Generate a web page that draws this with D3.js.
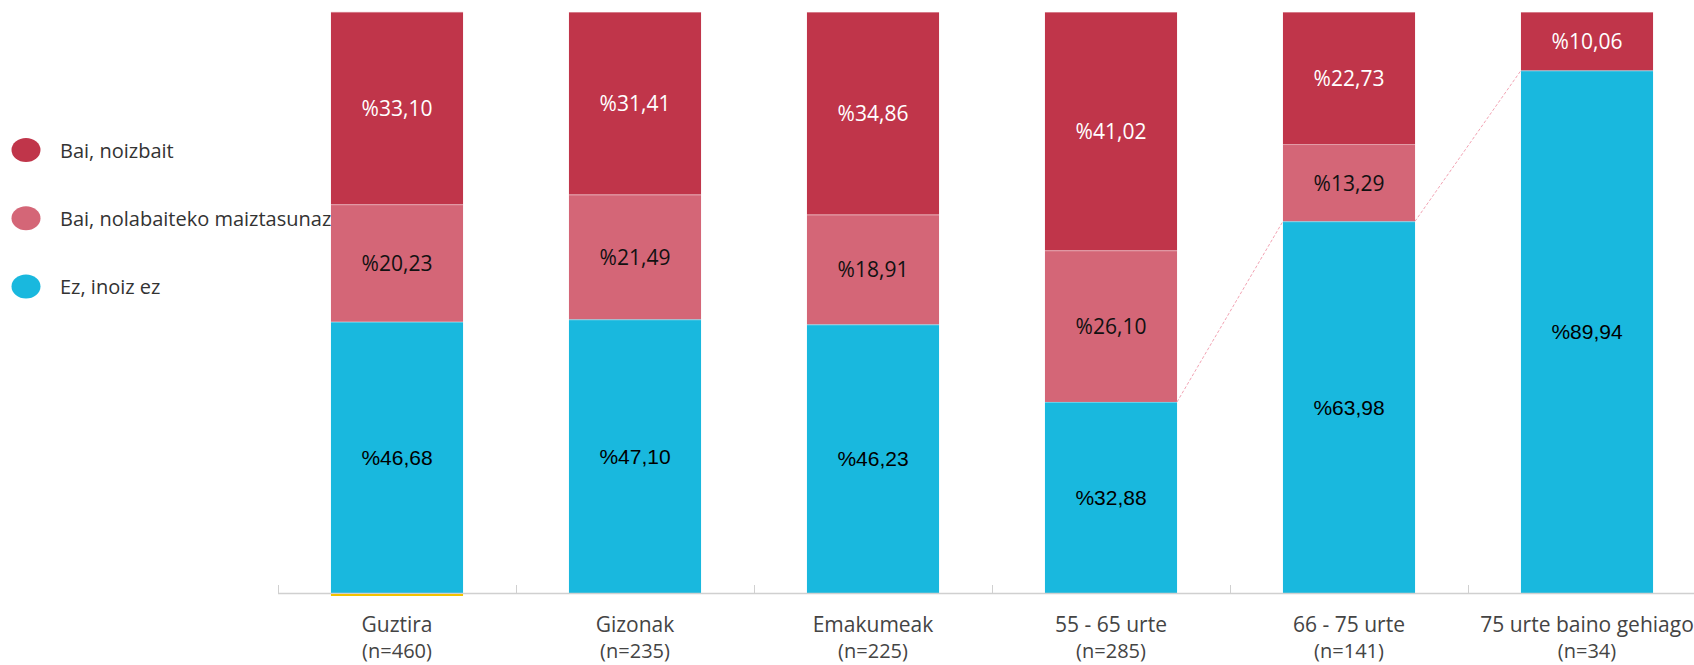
<!DOCTYPE html>
<html><head><meta charset="utf-8">
<script src="https://cdn.jsdelivr.net/npm/d3@7"></script>
<style>
html,body{margin:0;padding:0;background:#fff;}
svg{display:block;}
</style></head>
<body>
<svg id="chart" width="1694" height="665"></svg>
<script>
const categories = ["Guztira","Gizonak","Emakumeak","55 - 65 urte","66 - 75 urte","75 urte baino gehiago"];
const sampleSizes = ["(n=460)","(n=235)","(n=225)","(n=285)","(n=141)","(n=34)"];
const seriesNames = ["Ez, inoiz ez","Bai, nolabaiteko maiztasunaz","Bai, noizbait"];
const ezInoizEz = [46.68,47.10,46.23,32.88,63.98,89.94];
const baiNolabait = [20.23,21.49,18.91,26.10,13.29,0];
const baiNoizbait = [33.10,31.41,34.86,41.02,22.73,10.06];
const legendOrder = ["Bai, noizbait","Bai, nolabaiteko maiztasunaz","Ez, inoiz ez"];

const colors = {"Ez, inoiz ez":"#19b8de","Bai, nolabaiteko maiztasunaz":"#d46677","Bai, noizbait":"#c0354a"};
const labelColor = {"Ez, inoiz ez":"#000","Bai, nolabaiteko maiztasunaz":"#111","Bai, noizbait":"#fff"};
const labelFont = {"Ez, inoiz ez":"'Liberation Sans', Arial, sans-serif","Bai, nolabaiteko maiztasunaz":"'Segoe UI','Open Sans',sans-serif","Bai, noizbait":"'Segoe UI','Open Sans',sans-serif"};

const rows = categories.map((c,i)=>({cat:c,"Ez, inoiz ez":ezInoizEz[i],"Bai, nolabaiteko maiztasunaz":baiNolabait[i],"Bai, noizbait":baiNoizbait[i]}));
const stacked = d3.stack().keys(seriesNames)(rows);

const svg = d3.select("#chart");
const x = d3.scaleBand().domain(categories).range([278, 278+6*238]).paddingInner(0.445).paddingOuter(0.2225);
const y = d3.scaleLinear().domain([0,100]).range([593,12]);

// bars
const g = svg.append("g");
stacked.forEach(s=>{
  g.selectAll(null).data(s.filter(d=>d[1]-d[0]>0)).enter().append("rect")
    .attr("x",d=>x(d.data.cat))
    .attr("width",x.bandwidth())
    .attr("y",d=>y(d[1]))
    .attr("height",d=>y(d[0])-y(d[1]))
    .attr("fill",colors[s.key]);
});
// thin separators
stacked.forEach(s=>{
  g.selectAll(null).data(s.filter(d=>d[1]-d[0]>0)).enter().append("line")
    .attr("x1",d=>x(d.data.cat)).attr("x2",d=>x(d.data.cat)+x.bandwidth())
    .attr("y1",d=>y(d[1])+0.5).attr("y2",d=>y(d[1])+0.5)
    .attr("stroke","#fff").attr("stroke-opacity",0.35).attr("stroke-width",1);
});

// connector dashed lines (Ez, inoiz ez tops) between last groups
const ezTop = stacked[0];
const conns = [[3,4],[4,5]];
svg.append("g").selectAll("line").data(conns).enter().append("line")
  .attr("x1",d=>x(categories[d[0]])+x.bandwidth())
  .attr("y1",d=>y(ezTop[d[0]][1]))
  .attr("x2",d=>x(categories[d[1]]))
  .attr("y2",d=>y(ezTop[d[1]][1]))
  .attr("stroke","#f2a3b3").attr("stroke-width",1).attr("stroke-dasharray","3,2");

// labels
stacked.forEach(s=>{
  g.selectAll(null).data(s.filter(d=>d[1]-d[0]>0)).enter().append("text")
    .attr("x",d=>x(d.data.cat)+x.bandwidth()/2)
    .attr("y",d=>(y(d[0])+y(d[1]))/2)
    .attr("text-anchor","middle").attr("dominant-baseline","central")
    .attr("fill",labelColor[s.key])
    .style("font-family",labelFont[s.key])
    .style("font-size","21px")
    .text(d=>"%"+d3.format(".2f")(d[1]-d[0]).replace(".",","));
});

// x axis
const axisG = svg.append("g");
axisG.append("line").attr("x1",x.range()[0]).attr("x2",1694).attr("y1",593.5).attr("y2",593.5)
  .attr("stroke","#d0d0d0").attr("stroke-width",1.5);
const edges = d3.range(categories.length).map(i=>x.range()[0]+i*x.step());
axisG.selectAll("line.tick").data(edges).enter().append("line").attr("class","tick")
  .attr("x1",d=>d+0.5).attr("x2",d=>d+0.5).attr("y1",585).attr("y2",593)
  .attr("stroke","#d0d0d0").attr("stroke-width",1);
// selection highlight under first bar
axisG.append("line")
  .attr("x1",x(categories[0])).attr("x2",x(categories[0])+x.bandwidth())
  .attr("y1",595).attr("y2",595).attr("stroke","#f2c300").attr("stroke-width",2);
const tl = axisG.selectAll("g.lbl").data(categories).enter().append("g")
  .attr("transform",d=>`translate(${x(d)+x.bandwidth()/2},0)`);
tl.append("text").attr("y",624).attr("text-anchor","middle").attr("dominant-baseline","central")
  .attr("fill","#444").style("font-family","'Segoe UI','Open Sans',sans-serif").style("font-size","21px")
  .text(d=>d);
tl.append("text").attr("y",650).attr("text-anchor","middle").attr("dominant-baseline","central")
  .attr("fill","#444").style("font-family","'Segoe UI','Open Sans',sans-serif").style("font-size","20px")
  .text((d,i)=>sampleSizes[i]);

// legend
const lg = svg.append("g").selectAll("g").data(legendOrder).enter().append("g")
  .attr("transform",(d,i)=>`translate(26,${150+i*68.3})`);
lg.append("ellipse").attr("rx",14.5).attr("ry",12).attr("fill",d=>colors[d]);
lg.append("text").attr("x",34).attr("dominant-baseline","central")
  .attr("fill","#333").style("font-family","'Segoe UI','Open Sans',sans-serif").style("font-size","20px")
  .text(d=>d);
</script>
</body></html>
